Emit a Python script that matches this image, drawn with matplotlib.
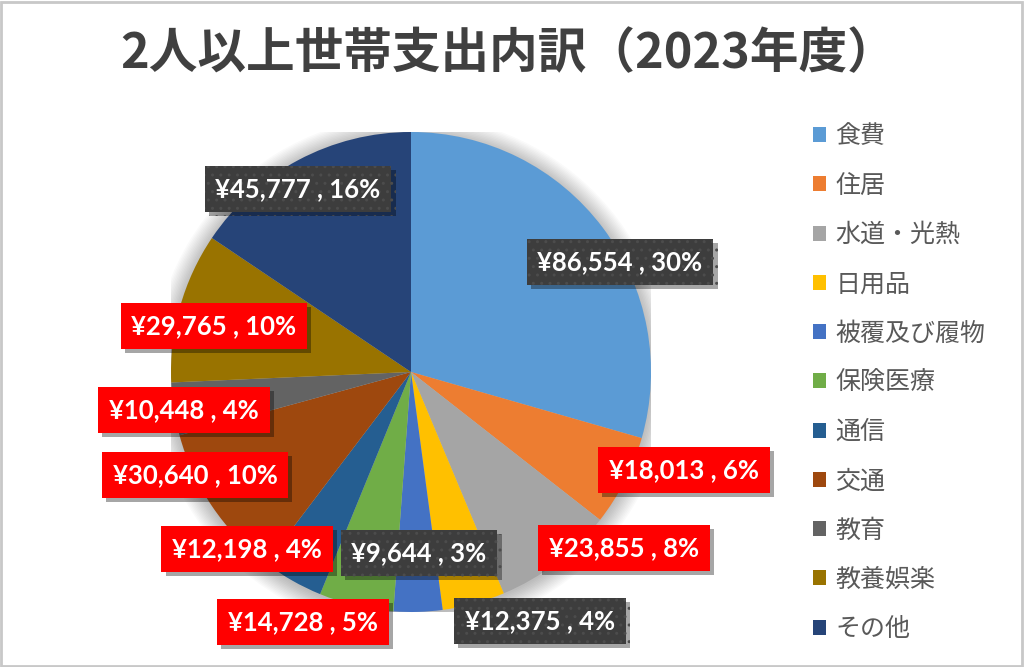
import matplotlib
matplotlib.use("Agg")
import matplotlib.pyplot as plt
import matplotlib.patheffects as pe
from matplotlib.patches import Circle, Rectangle, Patch

plt.rcParams['font.family'] = ['Noto Sans CJK JP', 'DejaVu Sans']

# data
categories = ["食費", "住居", "水道・光熱", "日用品", "被覆及び履物", "保険医療",
              "通信", "交通", "教育", "教養娯楽", "その他"]
amounts = [86554, 18013, 23855, 12375, 9644, 14728, 12198, 30640, 10448, 29765, 45777]
percents = [30, 6, 8, 4, 3, 5, 4, 10, 4, 10, 16]

colors = ["#5B9BD5", "#ED7D31", "#A5A5A5", "#FFC000", "#4472C4", "#70AD47",
          "#255E91", "#9E480E", "#636363", "#997300", "#264478"]
# which labels use the dark box (the rest are red)
dark_box = [True, False, False, True, True, False, False, False, False, False, True]
# label centres, in pie radii from the centre
label_pos = [(0.871, 0.458), (1.138, -0.408), (0.888, -0.733), (0.538, -1.038),
             (0.033, -0.754), (-0.45, -1.042), (-0.683, -0.738), (-0.9, -0.429),
             (-0.946, -0.158), (-0.821, 0.192), (-0.471, 0.763)]

W, H = 1024, 667
fig = plt.figure(figsize=(W / 100, H / 100), dpi=100)

cx, cy, r = 411, 372, 240
ax = fig.add_axes([(cx - r) / W, (H - cy - r) / H, 2 * r / W, 2 * r / H])
ax.set_xlim(-1, 1)
ax.set_ylim(-1, 1)
ax.set_aspect("equal")
ax.axis("off")

# soft glow under the pie
for i in range(14):
    ax.add_patch(Circle((0, -0.01), 1 + 0.006 * i, color="black", alpha=0.018,
                        lw=0, zorder=0))

ax.pie(amounts, colors=colors, startangle=90, counterclock=False, radius=1,
       wedgeprops=dict(linewidth=0))
ax.set_xlim(-1, 1)
ax.set_ylim(-1, 1)

shadow = [pe.SimplePatchShadow(offset=(3, -3), shadow_rgbFace="black", alpha=0.35),
          pe.Normal()]
for i, (amt, pct) in enumerate(zip(amounts, percents)):
    txt = f"¥{amt:,} , {pct}%"
    if dark_box[i]:
        box = dict(boxstyle="square,pad=0.42", facecolor="#3D3D3D",
                   edgecolor="#4C4C4C", hatch="..", linewidth=0)
    else:
        box = dict(boxstyle="square,pad=0.42", facecolor="#FF0000", linewidth=0)
    x, y = label_pos[i]
    t = ax.text(x, y, txt, ha="center", va="center", color="white",
                fontsize=18.5, fontweight="bold", family=["Lato", "DejaVu Sans"],
                bbox=box, zorder=5, clip_on=False)
    t.get_bbox_patch().set_path_effects(shadow)

# title
fig.text(508 / W, 1 - 54 / H, "2人以上世帯支出内訳（2023年度）", ha="center",
         va="center", fontsize=35, fontweight="bold", color="#404040")

# legend
handles = [Patch(facecolor=c, edgecolor="none") for c in colors]
leg = fig.legend(handles, categories, loc="upper left",
                 bbox_to_anchor=(800 / W, 1 - 111 / H), frameon=False,
                 fontsize=18, labelspacing=0.93, handlelength=0.55,
                 handleheight=0.55, handletextpad=0.36, borderpad=0)
for t in leg.get_texts():
    t.set_color("#595959")

# outer border
fig.add_artist(Rectangle((0.001, 0.002), 0.997, 0.995, transform=fig.transFigure,
                         fill=False, edgecolor="#C8C8C8", linewidth=2))

fig.savefig("out.png", dpi=100)
